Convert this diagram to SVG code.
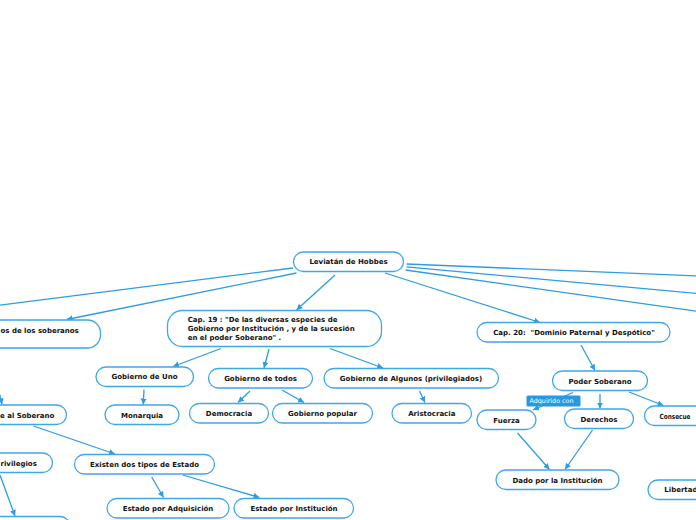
<svg xmlns="http://www.w3.org/2000/svg" width="696" height="520" viewBox="0 0 696 520">
<style>
.n rect{fill:#fff;stroke:#3fa6ea;stroke-width:1.3}
.n text,.t{font-family:"DejaVu Sans",Verdana,sans-serif;font-size:7px;font-weight:bold;fill:#111;text-anchor:middle}
.n text.s{text-anchor:start}
.c path{stroke:#2c9ce4;stroke-width:1.3;fill:none}
.c path.a{marker-end:url(#ah)}
.lbl rect{fill:#2a98e0}
.lbl text{font-family:"DejaVu Sans",Verdana,sans-serif;font-size:6.4px;fill:#fff}
</style>
<defs>
<marker id="ah" markerUnits="userSpaceOnUse" markerWidth="8" markerHeight="8" refX="6" refY="3" orient="auto">
<path d="M0,0 L6,3 L0,6 z" fill="#2c9ce4"/>
</marker>
</defs>
<rect x="0" y="0" width="696" height="520" fill="#fff"/>
<g id="connectors" class="c">
<path d="M293,268 L-2,305.3"/>
<path class="a" d="M296.5,273 L66.7,319.5"/>
<path class="a" d="M335,275 L296.5,310"/>
<path class="a" d="M385,273 L540,322.5"/>
<path d="M406.5,264 L698,276"/>
<path d="M406.5,266.8 L698,293.5"/>
<path d="M405.5,270 L698,311.5"/>
<path class="a" d="M221,348.5 L173,366.5"/>
<path class="a" d="M269,349 L264,368"/>
<path class="a" d="M330,348.5 L383,368"/>
<path class="a" d="M144,389.5 L143.3,404.5"/>
<path class="a" d="M250,391 L238,402.5"/>
<path class="a" d="M282,390 L304,402.5"/>
<path class="a" d="M419.5,391 L425,402.5"/>
<path class="a" d="M-1,392 L2,404.5"/>
<path class="a" d="M33.5,426 L115,454"/>
<path class="a" d="M0,475 L15,516"/>
<path class="a" d="M151.7,477 L163.5,497.5"/>
<path class="a" d="M182.7,475 L259.5,497.5"/>
<path class="a" d="M581,345 L595,370.5"/>
<path class="a" d="M600,394 L600,408.5"/>
<path class="a" d="M629,392 L663.5,405.5"/>
<path class="a" d="M573,392.5 L533,410"/>
<path class="a" d="M517.5,433 L549.5,469.5"/>
<path class="a" d="M592.5,430 L565,469.5"/>
</g>
<g id="label-adquirido" class="lbl">
<rect x="526.5" y="395.5" width="54" height="11" rx="1.5"/>
<text x="529.5" y="403">Adquirido con</text>
</g>
<g id="root" class="n"><rect x="293.5" y="252" width="110" height="19.5" rx="9.75"/><text x="348.5" y="264.3">Leviatán de Hobbes</text></g>
<g id="soberanos" class="n"><rect x="-30" y="320" width="130.5" height="28" rx="13"/><text class="s" x="0.5" y="333">os de los soberanos</text></g>
<g id="cap19" class="n"><rect x="167.5" y="310.5" width="214" height="36" rx="15"/>
<text class="s" x="187.7" y="321.5">Cap. 19 : "De las diversas especies de</text>
<text class="s" x="187.7" y="330.5">Gobierno por Institución , y de la sucesión</text>
<text class="s" x="187.7" y="339.5">en el poder Soberano" .</text></g>
<g id="cap20" class="n"><rect x="477" y="322.5" width="193" height="19.5" rx="9.75"/><text x="574" y="335" xml:space="preserve">Cap. 20:  "Dominio Paternal y Despótico"</text></g>
<g id="gob-uno" class="n"><rect x="96" y="367" width="97.5" height="19.5" rx="9.75"/><text x="144.5" y="379">Gobierno de Uno</text></g>
<g id="gob-todos" class="n"><rect x="208.5" y="368.5" width="104" height="19.5" rx="9.75"/><text x="260.5" y="381">Gobierno de todos</text></g>
<g id="gob-algunos" class="n"><rect x="324" y="368.5" width="174.5" height="19.5" rx="9.75"/><text x="411" y="381">Gobierno de Algunos (privilegiados)</text></g>
<g id="monarquia" class="n"><rect x="105" y="405" width="74" height="19.5" rx="9.75"/><text x="142" y="418">Monarquia</text></g>
<g id="democracia" class="n"><rect x="189.5" y="403.5" width="79" height="19.5" rx="9.75"/><text x="229" y="416">Democracia</text></g>
<g id="gob-popular" class="n"><rect x="272.5" y="403.5" width="100" height="19.5" rx="9.75"/><text x="322.5" y="416">Gobierno popular</text></g>
<g id="aristocracia" class="n"><rect x="392" y="403.5" width="79.5" height="19.5" rx="9.75"/><text x="431.8" y="416">Aristocracia</text></g>
<g id="al-soberano" class="n"><rect x="-40" y="405" width="106.5" height="19.5" rx="9.75"/><text class="s" x="0" y="417.5">e al Soberano</text></g>
<g id="privilegios" class="n"><rect x="-40" y="453" width="92.5" height="19.5" rx="9.75"/><text class="s" x="0.5" y="465.5">rivilegios</text></g>
<g id="existen" class="n"><rect x="74.5" y="454.5" width="140" height="19.5" rx="9.75"/><text x="144.5" y="467">Existen dos tipos de Estado</text></g>
<g id="est-adq" class="n"><rect x="107" y="498.5" width="122" height="19.5" rx="9.75"/><text x="168" y="511">Estado por Adquisición</text></g>
<g id="est-inst" class="n"><rect x="234" y="498.5" width="119.5" height="19.5" rx="9.75"/><text x="294" y="511">Estado por Institución</text></g>
<g id="bottom-left" class="n"><rect x="-40" y="516.5" width="110" height="19.5" rx="9.75"/></g>
<g id="poder" class="n"><rect x="552.5" y="371" width="95" height="19.5" rx="9.75"/><text x="600" y="383.5">Poder Soberano</text></g>
<g id="fuerza" class="n"><rect x="477" y="410" width="59" height="19.5" rx="9.75"/><text x="506.5" y="422.7">Fuerza</text></g>
<g id="derechos" class="n"><rect x="564.5" y="409" width="69" height="19.5" rx="9.75"/><text x="599" y="421.7">Derechos</text></g>
<g id="consecue" class="n"><rect x="644.5" y="406" width="80" height="19.5" rx="9.75"/><text class="s" x="659.5" y="418.5" textLength="31" lengthAdjust="spacingAndGlyphs">Consecue</text></g>
<g id="dado" class="n"><rect x="496" y="470" width="123" height="19.5" rx="9.75"/><text x="557.5" y="482.7">Dado por la Institución</text></g>
<g id="libertad" class="n"><rect x="648" y="480" width="70" height="19.5" rx="9.75"/><text class="s" x="664.3" y="492">Libertad</text></g>
</svg>
